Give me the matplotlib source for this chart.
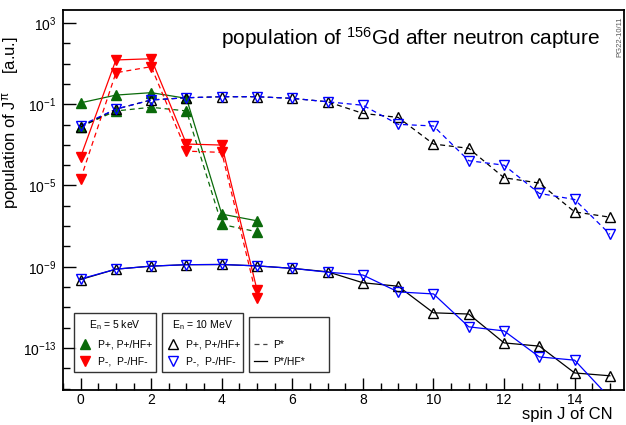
import matplotlib
matplotlib.use('Agg')
import matplotlib.pyplot as plt
import numpy as np
from matplotlib.lines import Line2D
from matplotlib.ticker import FixedLocator, NullFormatter

plt.rcParams['font.family'] = ['Liberation Sans', 'DejaVu Sans']
plt.rcParams['mathtext.fontset'] = 'custom'
plt.rcParams['mathtext.rm'] = 'Liberation Sans'
plt.rcParams['mathtext.it'] = 'Liberation Sans'

# log10 of the population
spin_5kev = np.arange(0, 6)
green_hf = [-0.93, -0.55, -0.43, -0.71, -6.41, -6.74]     # P+/HF+, 5 keV
green_p = [-2.10, -1.33, -1.15, -1.33, -6.92, -7.28]      # P+, 5 keV
red_hf = [-3.59, 1.18, 1.24, -2.96, -3.01, -10.15]        # P-/HF-, 5 keV
red_p = [-4.68, 0.55, 0.85, -3.31, -3.37, -10.56]         # P-, 5 keV

spin_10mev = np.arange(0, 16)
black_p = [-2.12, -1.24, -0.79, -0.68, -0.63, -0.63, -0.71, -0.88,
           -1.45, -1.65, -2.96, -3.17, -4.62, -4.88, -6.30, -6.56]
blue_p = [-2.05, -1.24, -0.79, -0.68, -0.63, -0.63, -0.71, -0.88,
          -1.05, -1.99, -2.07, -3.78, -4.00, -5.39, -5.69, -7.40]
black_hf = [-9.63, -9.12, -8.97, -8.90, -8.89, -8.96, -9.08, -9.25,
            -9.79, -9.96, -11.27, -11.33, -12.75, -12.91, -14.23, -14.37]
blue_hf = [-9.60, -9.12, -8.97, -8.90, -8.89, -8.96, -9.08, -9.27,
           -9.41, -10.24, -10.34, -11.96, -12.16, -13.44, -13.60, -15.46]

GREEN = '#0a6a0a'
RED = '#ff0000'
BLUE = '#0000ff'
dash = (0, (4, 3))

fig = plt.figure(figsize=(6.26, 4.25), dpi=100)
ax = fig.add_axes([63/626, 1-390/425, 561/626, 380/425])

ms = 7
lw = 0.9

def draw(x, logy, color, ls, marker, filled, z):
    y = 10.0 ** np.array(logy)
    ax.plot(x, y, color=color, ls=ls, lw=lw, zorder=z)
    ax.plot(x, y, ls='none', marker=marker, ms=ms,
            mfc=color if filled else 'none', mec=color, mew=1.0, zorder=z + 0.5)

# 5 keV
draw(spin_5kev, green_p, GREEN, dash, '^', True, 2)
draw(spin_5kev, green_hf, GREEN, '-', '^', True, 2)
draw(spin_5kev, red_p, RED, dash, 'v', True, 2)
draw(spin_5kev, red_hf, RED, '-', 'v', True, 2)
# 10 MeV
draw(spin_10mev, black_p, 'black', dash, '^', False, 3)
draw(spin_10mev, blue_p, BLUE, dash, 'v', False, 3)
draw(spin_10mev, black_hf, 'black', '-', '^', False, 3)
draw(spin_10mev, blue_hf, BLUE, '-', 'v', False, 3)

ax.set_yscale('log')
ax.set_xlim(-0.5, 15.4)
ax.set_ylim(10**-15.07, 10**3.64)

ax.set_xticks(np.arange(0, 16, 2))
ax.set_xticks(np.arange(-0.5, 15.5, 0.5), minor=True)
ax.yaxis.set_major_locator(FixedLocator([10.0**e for e in (3, -1, -5, -9, -13)]))
ax.yaxis.set_minor_locator(FixedLocator([10.0**e for e in range(-15, 4)]))
ax.yaxis.set_minor_formatter(NullFormatter())
ax.tick_params(axis='both', which='major', direction='in', length=9, width=1.0,
               labelsize=10)
ax.tick_params(axis='x', which='major', pad=2)
ax.tick_params(axis='y', which='major', pad=5)
ax.tick_params(axis='both', which='minor', direction='in', length=5, width=1.0)
for s in ax.spines.values():
    s.set_linewidth(1.3)

ax.set_ylabel(r'population of J$^{\pi}$    [a.u.]', fontsize=12)
ax.yaxis.set_label_coords(-0.075, 0.705)
fig.text(613/626, 1-415/425, 'spin J of CN', fontsize=12, ha='right', va='center')

ax.text(0.62, 0.926, r'population of $^{\mathregular{156}}$Gd after neutron capture',
        transform=ax.transAxes, ha='center', va='center', fontsize=15)
fig.text(620/626, 1-37/425, 'PG22-10/11', rotation=90, fontsize=5.5,
         color='#555555', ha='center', va='center')

# legends
leg_kw = dict(fontsize=7.5, frameon=True, fancybox=False, edgecolor='black',
              handlelength=1.2, handletextpad=0.6, borderpad=0.5,
              labelspacing=0.7, title_fontsize=7.5, borderaxespad=0)

h1 = [Line2D([], [], ls='none', marker='^', ms=ms, color=GREEN),
      Line2D([], [], ls='none', marker='v', ms=ms, color=RED)]
l1 = ax.legend(h1, ['P+, P+/HF+', 'P-,  P-/HF-'], title=r'E$_\mathregular{n}$ = 5 keV',
               loc='lower left', bbox_to_anchor=(0.0196, 0.047, 0.146, 0.133),
               mode='expand', **leg_kw)
h2 = [Line2D([], [], ls='none', marker='^', ms=ms, mfc='none', mec='black'),
      Line2D([], [], ls='none', marker='v', ms=ms, mfc='none', mec=BLUE)]
l2 = ax.legend(h2, ['P+, P+/HF+', 'P-,  P-/HF-'], title=r'E$_\mathregular{n}$ = 10 MeV',
               loc='lower left', bbox_to_anchor=(0.176, 0.047, 0.145, 0.133),
               mode='expand', **leg_kw)
h3 = [Line2D([], [], ls=dash, lw=lw, color='#444444'),
      Line2D([], [], ls='-', lw=lw, color='black')]
l3 = ax.legend(h3, ['P*', 'P*/HF*'], title=' ',
               loc='lower left', bbox_to_anchor=(0.3316, 0.047, 0.143, 0.133),
               mode='expand', **leg_kw)
for lg in (l1, l2, l3):
    lg.get_frame().set_linewidth(1.0)
    lg.set_zorder(5)
ax.add_artist(l1)
ax.add_artist(l2)

fig.savefig('out.png', dpi=100)
